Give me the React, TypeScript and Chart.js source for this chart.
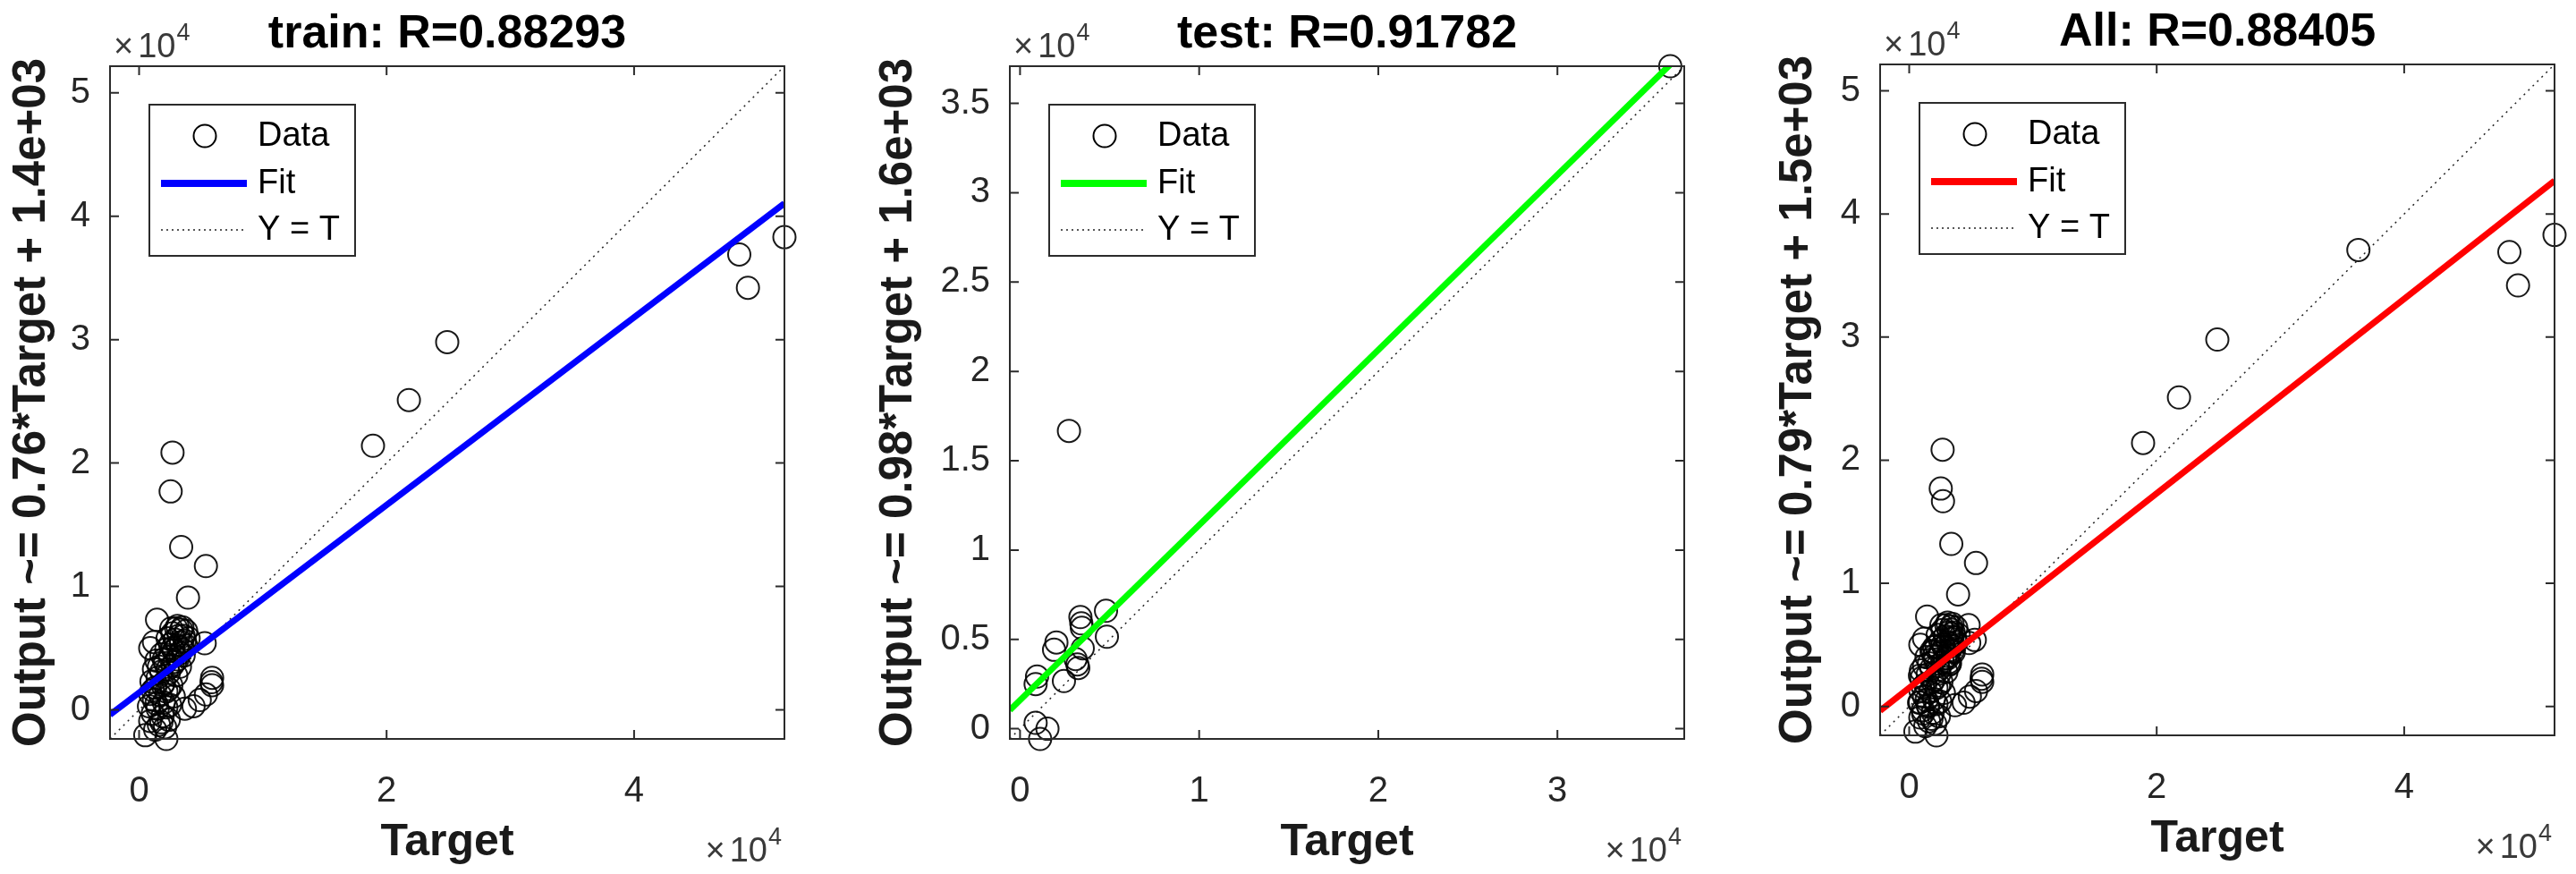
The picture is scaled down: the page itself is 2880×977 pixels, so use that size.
import React, { useEffect, useRef } from 'react';
import { Chart, registerables } from 'chart.js';

Chart.register(...registerables);

// ---------- DATA ----------
// Training set: Target and network Output
const trainTargets = [
  52150, 48500, 49200, 24900, 21800, 18900, 2700, 2550, 3400, 5400, 3950, 1450, 5300,
  5900, 5850, 5900, 5400, 4900, 4400, 3700, 500, 2200,
  3000, 3400, 3800, 2700, 3200, 3600, 4000, 2900, 3400, 2500, 3800,
  2200, 2800, 3300, 1800, 2500, 3100, 3600, 1400, 2100, 2700, 3300, 1200, 1800, 2400, 3000, 1500,
  1000, 2000, 2600, 1300, 2200, 900, 1700, 2800, 1200, 2000, 2500, 800, 1500,
  1100, 1900, 2400, 900, 1600, 2100, 1300, 900, 1200,
  2600, 3100, 3500, 2300, 3700, 3100, 2700, 3500, 2000, 2900, 1600, 2300, 1900, 1100, 2400, 1400, 2200, 1800,
];
const trainOutputs = [
  38300, 36900, 34200, 29800, 25100, 21400, 20850, 17700, 13200, 11650, 9100, 7300, 5400,
  2600, 2250, 2000, 1250, 800, 300, 100, -2050, -2350,
  6600, 6500, 6400, 6200, 6000, 6000, 5800, 5700, 5500, 5300, 5200,
  4900, 4800, 4600, 4500, 4300, 4100, 4400, 4000, 3800, 3600, 3500, 3300, 3100, 3000, 2800, 2600,
  2300, 2200, 2000, 1800, 1500, 1300, 1200, 1100, 800, 600, 400, 300, 100,
  -300, -500, -800, -900, -1200, -1400, -1600, 5000, 5500,
  6600, 6800, 6700, 5800, 5600, 5200, 5000, 4900, 4100, 3900, 3500, 3300, 2000, 1600, 1700, 500, 200, -1000,
];
// Test set: Target and network Output
const testTargets = [
  36300, 2730, 4800, 4850, 3370, 3420, 3450, 2030, 1900, 3500, 3100, 3200, 3250, 2450, 950, 870, 870, 1530, 1120,
];
const testOutputs = [
  37080, 16670, 6600, 5150, 6250, 5900, 5650, 4830, 4420, 4500, 3900, 3600, 3400, 2670, 2920, 2500, 330, 0, -570,
];

const panelTitles = ['train: R=0.88293', 'test: R=0.91782', 'All: R=0.88405'];
const yAxisLabels = [
  'Output ~= 0.76*Target + 1.4e+03',
  'Output ~= 0.98*Target + 1.6e+03',
  'Output ~= 0.79*Target + 1.5e+03',
];
const xAxisLabel = 'Target';
const legendLabels = ['Data', 'Fit', 'Y = T'];
const fitSlopes = [0.76, 0.98, 0.79];
const fitIntercepts = [1400, 1600, 1500];
const fitColors = ['#0000ff', '#00ff00', '#ff0000'];

const trainXTicks = [0, 20000, 40000];
const trainYTicks = [0, 10000, 20000, 30000, 40000, 50000];
const testXTicks = [0, 10000, 20000, 30000];
const testYTicks = [0, 5000, 10000, 15000, 20000, 25000, 30000, 35000];
const exponentBase = '10';
const exponentPower = '4';
const tickScale = 10000;

// ---------- LAYOUT ----------
const FONT = "'Liberation Sans', Arial, Helvetica, sans-serif";
const CANVAS_W = 960;
const CANVAS_H = 977;

type Layout = {
  offset: number; left: number; right: number; top: number; bottom: number;
  titleCenter: number; yTitleCenter: number; xTitleCenter: number;
};
const layouts: Layout[] = [
  { offset: 0, left: 123, right: 877, top: 74, bottom: 826, titleCenter: 39, yTitleCenter: 36, xTitleCenter: 942 },
  { offset: 960, left: 169, right: 923, top: 74, bottom: 826, titleCenter: 39, yTitleCenter: 45, xTitleCenter: 942 },
  { offset: 1920, left: 182, right: 936, top: 72, bottom: 822, titleCenter: 37, yTitleCenter: 91, xTitleCenter: 938 },
];

const TITLE_SIZE = 52;
const YLABEL_SIZE = 51;
const XLABEL_SIZE = 50;
const TICK_SIZE = 40;

const matlabAxesPlugin = {
  id: 'matlabAxes',
  afterDatasetsDraw(chart: any) {
    const { ctx, chartArea } = chart;
    const { left, right, top, bottom } = chartArea;
    const xs = chart.scales.x;
    const ys = chart.scales.y;
    ctx.save();
    ctx.strokeStyle = '#2b2b2b';
    ctx.lineWidth = 2;
    ctx.setLineDash([]);
    ctx.strokeRect(left, top, right - left, bottom - top);
    const tl = 10;
    ctx.beginPath();
    for (const t of xs.ticks) {
      const px = xs.getPixelForValue(t.value);
      ctx.moveTo(px, bottom); ctx.lineTo(px, bottom - tl);
      ctx.moveTo(px, top); ctx.lineTo(px, top + tl);
    }
    for (const t of ys.ticks) {
      const py = ys.getPixelForValue(t.value);
      ctx.moveTo(left, py); ctx.lineTo(left + tl, py);
      ctx.moveTo(right, py); ctx.lineTo(right - tl, py);
    }
    ctx.stroke();

    // exponent labels (x10^4)
    const drawExp = (x0: number, base: number, alignRight: boolean) => {
      ctx.fillStyle = '#3a3a3a';
      ctx.textBaseline = 'alphabetic';
      ctx.textAlign = 'left';
      ctx.font = `38px ${FONT}`;
      const wTimes = ctx.measureText('×').width;
      const wBase = ctx.measureText(exponentBase).width;
      ctx.font = `27px ${FONT}`;
      const wPow = ctx.measureText(exponentPower).width;
      const gap = 5;
      const total = wTimes + gap + wBase + 1 + wPow;
      const sx = alignRight ? x0 - total : x0;
      ctx.font = `38px ${FONT}`;
      ctx.fillText('×', sx, base);
      ctx.fillText(exponentBase, sx + wTimes + gap, base);
      ctx.font = `27px ${FONT}`;
      ctx.fillText(exponentPower, sx + wTimes + gap + wBase + 1, base - 19);
    };
    drawExp(left + 4, top - 10, false);
    drawExp(right - 3, bottom + 137, true);
    ctx.restore();
  },
  afterDraw(chart: any) {
    const { ctx, chartArea } = chart;
    const { left, top } = chartArea;
    const ds = chart.data.datasets;
    const bx = left + 44, by = top + 43, bw = 230, bh = 169;
    ctx.save();
    ctx.fillStyle = '#ffffff';
    ctx.fillRect(bx, by, bw, bh);
    ctx.strokeStyle = '#2b2b2b';
    ctx.lineWidth = 2;
    ctx.setLineDash([]);
    ctx.strokeRect(bx, by, bw, bh);
    const rows = [top + 78, top + 131, top + 183];
    // Data marker
    ctx.beginPath();
    ctx.arc(left + 106, rows[0], 12.5, 0, Math.PI * 2);
    ctx.strokeStyle = '#000000';
    ctx.lineWidth = 2;
    ctx.stroke();
    // Fit line
    ctx.beginPath();
    ctx.moveTo(left + 57, rows[1]);
    ctx.lineTo(left + 153, rows[1]);
    ctx.strokeStyle = ds[1].borderColor;
    ctx.lineWidth = 8;
    ctx.stroke();
    // Y = T line
    ctx.beginPath();
    ctx.setLineDash([2, 4]);
    ctx.moveTo(left + 57, rows[2]);
    ctx.lineTo(left + 153, rows[2]);
    ctx.strokeStyle = '#222222';
    ctx.lineWidth = 1.5;
    ctx.stroke();
    ctx.setLineDash([]);
    ctx.fillStyle = '#000000';
    ctx.font = `38px ${FONT}`;
    ctx.textAlign = 'left';
    ctx.textBaseline = 'middle';
    for (let i = 0; i < 3; i++) ctx.fillText(ds[i].label, left + 165, rows[i] + 1);
    ctx.restore();
  },
};

function Panel({ idx }: { idx: number }) {
  const ref = useRef<HTMLCanvasElement | null>(null);
  useEffect(() => {
    const L = layouts[idx];
    const targets = idx === 0 ? trainTargets : idx === 1 ? testTargets : [...trainTargets, ...testTargets];
    const outputs = idx === 0 ? trainOutputs : idx === 1 ? testOutputs : [...trainOutputs, ...testOutputs];
    const xTicks = idx === 1 ? testXTicks : trainXTicks;
    const yTicks = idx === 1 ? testYTicks : trainYTicks;
    const lo = Math.min(...targets, ...outputs);
    const hi = Math.max(...targets, ...outputs);
    const m = fitSlopes[idx];
    const b = fitIntercepts[idx];
    const points = targets.map((t, i) => ({ x: t, y: outputs[i] }));

    const titleLH = TITLE_SIZE * 1.2;
    const yLH = YLABEL_SIZE * 1.2;
    const xLH = XLABEL_SIZE * 1.2;

    const chart = new Chart(ref.current as HTMLCanvasElement, {
      type: 'scatter',
      data: {
        datasets: [
          {
            type: 'scatter',
            label: legendLabels[0],
            data: points,
            pointStyle: 'circle',
            pointRadius: 12.5,
            pointBorderWidth: 2,
            pointBorderColor: 'rgba(0,0,0,0.9)',
            pointBackgroundColor: 'rgba(0,0,0,0)',
            showLine: false,
            clip: false as any,
            order: 1,
          },
          {
            type: 'line',
            label: legendLabels[1],
            data: [{ x: lo, y: m * lo + b }, { x: hi, y: m * hi + b }],
            borderColor: fitColors[idx],
            borderWidth: 7,
            pointRadius: 0,
            clip: 0 as any,
            order: 0,
          },
          {
            type: 'line',
            label: legendLabels[2],
            data: [{ x: lo, y: lo }, { x: hi, y: hi }],
            borderColor: '#222222',
            borderWidth: 1.5,
            borderDash: [2, 5],
            pointRadius: 0,
            clip: 0 as any,
            order: 2,
          },
        ] as any,
      },
      options: {
        responsive: false,
        maintainAspectRatio: false,
        animation: false,
        devicePixelRatio: 1,
        events: [],
        layout: { padding: { left: 0, top: 0, bottom: 0, right: CANVAS_W - L.right } },
        plugins: {
          legend: { display: false },
          tooltip: { enabled: false },
          title: {
            display: true,
            text: panelTitles[idx],
            fullSize: false,
            color: '#000000',
            font: { family: FONT, size: TITLE_SIZE, weight: 'bold' },
            padding: { top: L.titleCenter - titleLH / 2, bottom: L.top - (L.titleCenter - titleLH / 2) - titleLH },
          },
        },
        scales: {
          x: {
            type: 'linear',
            position: 'bottom',
            min: lo,
            max: hi,
            grid: { display: false },
            border: { display: false },
            afterBuildTicks: (s: any) => { s.ticks = xTicks.map((v) => ({ value: v })); },
            afterFit: (s: any) => { s.height = CANVAS_H - L.bottom; },
            ticks: {
              color: '#262626',
              font: { family: FONT, size: TICK_SIZE },
              padding: 27,
              maxRotation: 0,
              autoSkip: false,
              callback: (v: any) => String(Number(v) / tickScale),
            },
            title: {
              display: true,
              text: xAxisLabel,
              color: '#1a1a1a',
              font: { family: FONT, size: XLABEL_SIZE, weight: 'bold' },
              padding: { top: 0, bottom: CANVAS_H - L.xTitleCenter - xLH / 2 },
            },
          },
          y: {
            type: 'linear',
            position: 'left',
            min: lo,
            max: hi,
            grid: { display: false },
            border: { display: false },
            afterBuildTicks: (s: any) => { s.ticks = yTicks.map((v) => ({ value: v })); },
            afterFit: (s: any) => { s.width = L.left; },
            ticks: {
              color: '#262626',
              font: { family: FONT, size: TICK_SIZE },
              padding: 14,
              autoSkip: false,
              callback: (v: any) => String(Number(v) / tickScale),
            },
            title: {
              display: true,
              text: yAxisLabels[idx],
              color: '#1a1a1a',
              font: { family: FONT, size: YLABEL_SIZE, weight: 'bold' },
              padding: { top: L.yTitleCenter - yLH / 2, bottom: 0 },
            },
          },
        },
      } as any,
      plugins: [matlabAxesPlugin],
    });
    return () => chart.destroy();
  }, [idx]);

  const L = layouts[idx];
  return (
    <canvas
      ref={ref}
      width={CANVAS_W}
      height={CANVAS_H}
      style={{ position: 'absolute', left: L.offset, top: 0, width: CANVAS_W, height: CANVAS_H }}
    />
  );
}

export default function App() {
  return (
    <div style={{ position: 'absolute', left: 0, top: 0, width: 2880, height: 977, background: '#ffffff', overflow: 'hidden' }}>
      <Panel idx={0} />
      <Panel idx={1} />
      <Panel idx={2} />
    </div>
  );
}
